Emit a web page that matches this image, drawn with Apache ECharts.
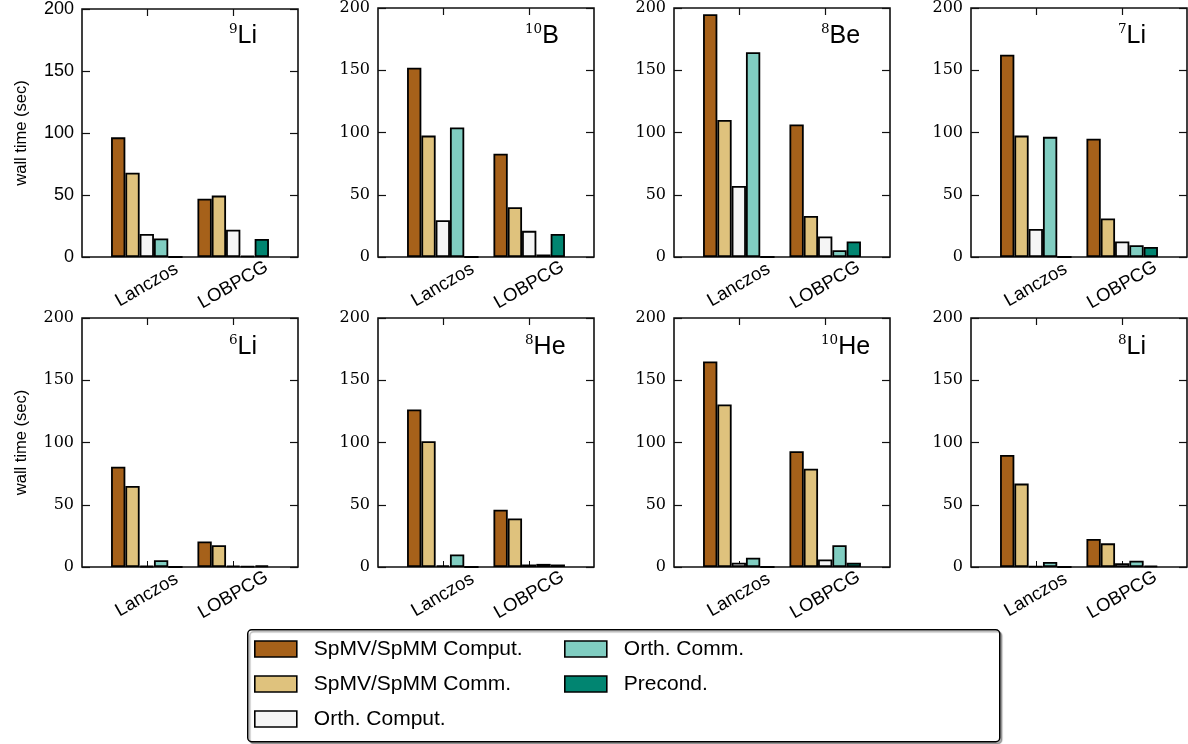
<!DOCTYPE html>
<html>
<head>
<meta charset="utf-8">
<script src="https://cdn.jsdelivr.net/npm/echarts@6/dist/echarts.min.js"></script>
<style>
  html, body { margin: 0; padding: 0; background: #fff; }
  #chart { width: 1188px; height: 744px; }
</style>
</head>
<body>
<div id="chart"></div>
<script>
// ---- Data ----
const categories = ['Lanczos', 'LOBPCG'];
const massNumbers = ['9', '10', '8', '7', '6', '8', '10', '8'];
const elements = ['Li', 'B', 'Be', 'Li', 'Li', 'He', 'He', 'Li'];
const seriesNames = ['SpMV/SpMM Comput.', 'SpMV/SpMM Comm.', 'Orth. Comput.', 'Orth. Comm.', 'Precond.'];
const yTicks = [0, 50, 100, 150, 200];

// values per panel: [Lanczos, LOBPCG]
const spmvComput = [[96.5, 47], [152, 83], [195, 106.5], [162.5, 95], [80.5, 20.5], [126.5, 46], [165, 93], [90, 22.5]];
const spmvComm   = [[68, 49.5], [97.5, 40], [110, 33], [97.5, 31], [65, 17.5], [101, 39], [130.5, 79], [67, 19]];
const orthComput = [[18.5, 22], [29.5, 21], [57, 16.5], [22.5, 12.5], [0.8, 1], [1.3, 2], [3.5, 6], [0.6, 3]];
const orthComm   = [[15, 1], [104, 2], [164.5, 5.5], [96.5, 9.5], [5.5, 0.5], [10, 2.5], [7.5, 17.5], [4, 5]];
const precond    = [[0, 14.5], [0, 18.5], [0, 12.5], [0, 8], [0, 1.2], [0, 2], [0, 3.5], [0, 1]];

const colors = ['#a6611a', '#dfc27d', '#f5f5f5', '#80cdc1', '#018571'];
const allValues = [spmvComput, spmvComm, orthComput, orthComm, precond];

// ---- Layout ----
const gridLefts = [82, 378, 674, 971];
const gridTops = [7, 318];
const gridW = 216;

const grids = [], xAxes = [], yAxes = [], series = [], titles = [];

for (let p = 0; p < 8; p++) {
  const row = Math.floor(p / 4), col = p % 4;
  const left = gridLefts[col], top = gridTops[row];
  grids.push({
    left: left, top: top, width: gridW, height: row === 0 ? 250 : 249,
    show: true, borderColor: '#111', borderWidth: 1.6, backgroundColor: 'transparent'
  });
  const isFirst = (p === 0);
  // bottom x axis
  xAxes.push({
    gridIndex: p, type: 'value', min: -0.75, max: 1.75, position: 'bottom',
    axisLine: { show: false, onZero: false }, splitLine: { show: false },
    axisTick: { show: true, inside: true, length: 6, customValues: [0, 1], lineStyle: { color: '#111', width: 1 } },
    axisLabel: {
      show: true, customValues: [0, 1], rotate: 30, align: 'center', verticalAlign: 'middle', margin: 28,
      formatter: v => categories[Math.round(v)] || '',
      fontFamily: 'Liberation Sans', fontSize: 18.5, color: '#000'
    }
  });
  // top x axis (ticks only)
  xAxes.push({
    gridIndex: p, type: 'value', min: -0.75, max: 1.75, position: 'top',
    axisLine: { show: false, onZero: false }, splitLine: { show: false },
    axisTick: { show: true, inside: true, length: 7, customValues: [0, 1], lineStyle: { color: '#111', width: 1.2 } },
    axisLabel: { show: false }
  });
  // left y axis
  yAxes.push({
    gridIndex: p, type: 'value', min: 0, max: 200, interval: 50, position: 'left',
    axisLine: { show: false, onZero: false }, splitLine: { show: false },
    axisTick: { show: true, inside: true, length: 8, lineStyle: { color: '#111', width: 1.2 } },
    axisLabel: {
      margin: 8, color: '#000',
      fontFamily: isFirst ? 'Liberation Sans' : 'DejaVu Serif',
      fontSize: isFirst ? 18 : 16
    },
    name: (col === 0) ? 'wall time (sec)' : '',
    nameLocation: 'middle', nameRotate: 90, nameGap: 52,
    nameTextStyle: { fontFamily: 'Liberation Sans', fontSize: 16.5, color: '#000' }
  });
  // right y axis (ticks only)
  yAxes.push({
    gridIndex: p, type: 'value', min: 0, max: 200, interval: 50, position: 'right',
    axisLine: { show: false, onZero: false }, splitLine: { show: false },
    axisTick: { show: true, inside: true, length: 8, lineStyle: { color: '#111', width: 1.2 } },
    axisLabel: { show: false }
  });

  for (let s = 0; s < 5; s++) {
    series.push({
      name: seriesNames[s], type: 'bar',
      xAxisIndex: 2 * p, yAxisIndex: 2 * p,
      barWidth: 14.3, barGap: '0%',
      data: categories.map((c, ci) => [ci, allValues[s][p][ci]]),
      itemStyle: { color: colors[s], borderColor: '#000', borderWidth: 1.8 },
      emphasis: { disabled: true },
      animation: false
    });
  }

  titles.push({
    text: '{m|' + massNumbers[p] + '}{e|' + elements[p] + '}',
    left: left + 147, top: top + 15, padding: 0,
    textStyle: {
      fontWeight: 'normal',
      rich: {
        m: { fontFamily: 'DejaVu Serif', fontSize: 13.5, fontWeight: 'normal', color: '#000', verticalAlign: 'top', lineHeight: 16 },
        e: { fontFamily: 'Liberation Sans', fontSize: 25, fontWeight: 'normal', color: '#000', lineHeight: 28 }
      }
    }
  });
}

const legendCommon = {
  orient: 'vertical', icon: 'rect', itemWidth: 42, itemHeight: 16, itemGap: 11,
  padding: 0, selectedMode: false,
  itemStyle: { borderColor: '#000', borderWidth: 1.6 },
  textStyle: { fontFamily: 'Liberation Sans', fontSize: 21, color: '#000', lineHeight: 24, padding: [0, 0, 0, 12] }
};

const option = {
  animation: false,
  backgroundColor: '#fff',
  title: titles,
  grid: grids,
  xAxis: xAxes,
  yAxis: yAxes,
  legend: [
    Object.assign({}, legendCommon, { left: 254, top: 637, data: seriesNames.slice(0, 3) }),
    Object.assign({}, legendCommon, { left: 564, top: 637, data: seriesNames.slice(3) })
  ],
  graphic: [{
    type: 'rect', left: 247, top: 629, z: -1,
    shape: { width: 752, height: 112, r: 4 },
    style: { fill: '#fff', stroke: '#000', lineWidth: 1.5, shadowColor: 'rgba(0,0,0,0.3)', shadowOffsetX: 2, shadowOffsetY: 2, shadowBlur: 1 }
  }],
  series: series
};

const chart = echarts.init(document.getElementById('chart'), null, { renderer: 'canvas' });
chart.setOption(option);
</script>
</body>
</html>
